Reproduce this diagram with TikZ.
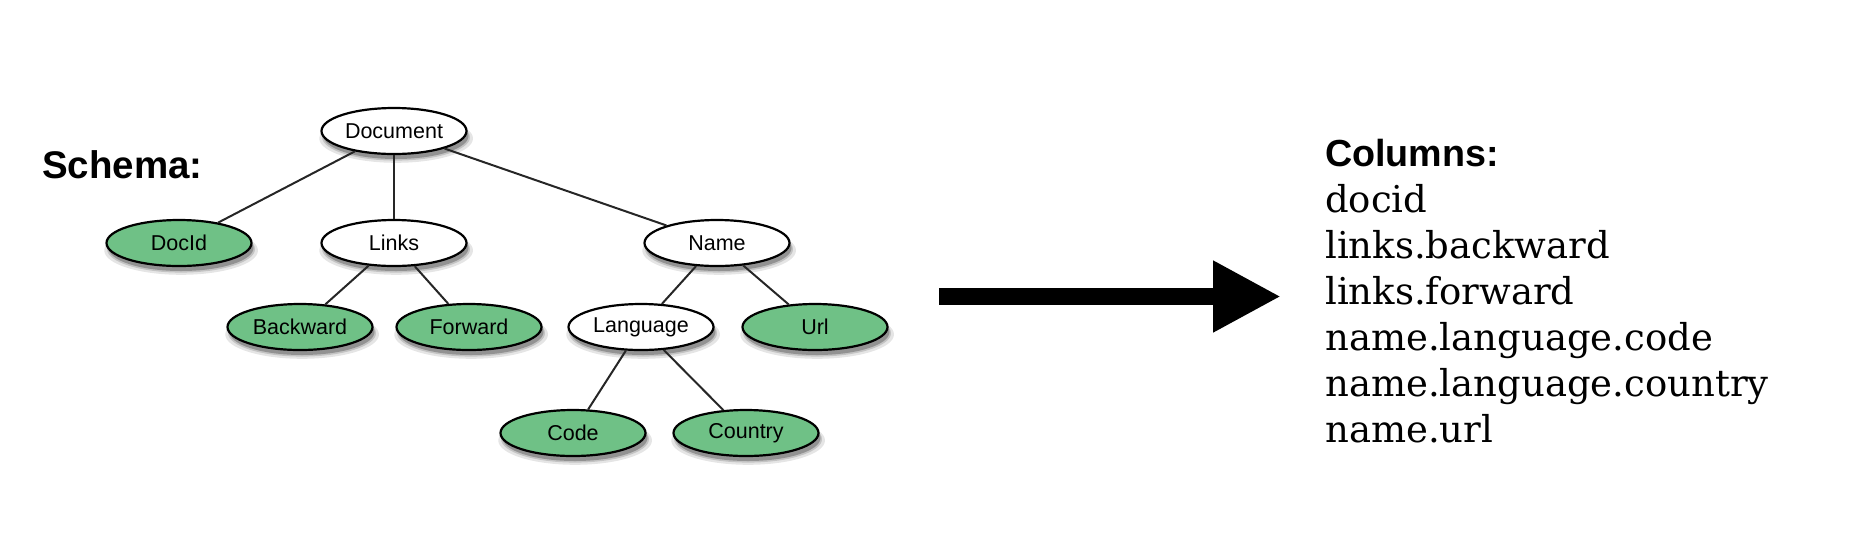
\documentclass[tikz,border=0pt]{standalone}
\usepackage{fontspec}
\setmainfont{Liberation Sans}
\newfontfamily\colfont{DejaVu Serif}
\usetikzlibrary{shapes.geometric,shadows,arrows.meta}
\definecolor{leafgreen}{RGB}{111,193,134}
\begin{document}
\begin{tikzpicture}[x=1pt,y=-1pt,
  ell/.style={ellipse, draw=black, line width=2.2pt, minimum width=145pt, minimum height=46pt, inner sep=0pt,
    font=\fontsize{21.5}{23}\selectfont,
    general shadow={shadow xshift=2pt, shadow yshift=-7pt, shadow scale=1.06, opacity=0.10, fill=black},
    general shadow={shadow xshift=2pt, shadow yshift=-6pt, shadow scale=1.02, opacity=0.15, fill=black},
    general shadow={shadow xshift=2pt, shadow yshift=-5pt, opacity=0.25, fill=black}},
  inner/.style={ell, fill=white},
  leaf/.style={ell, fill=leafgreen},
  edge/.style={draw=black!85, line width=2pt},
  title/.style={font=\fontsize{38.5}{40}\selectfont\bfseries, anchor=base west, inner sep=0pt},
  col/.style={font=\colfont\fontsize{37}{40}\selectfont, anchor=base west, inner sep=0pt},
  bigarrow/.style={line width=17pt, -{Triangle[length=68pt,width=67pt]}}]
\useasboundingbox (0,0) rectangle (1862,542);
\node[title] (schema) at (42,178) {Schema:};
\node[inner] (doc) at (394,131) {Document};
\node[leaf] (docid) at (179,243) {DocId};
\node[inner] (links) at (394,243) {Links};
\node[inner] (name) at (717,243) {Name};
\node[leaf] (back) at (300,327) {Backward};
\node[leaf] (fwd) at (469,327) {Forward};
\node[inner] (lang) at (641,327) {Language};
\node[leaf] (url) at (815,327) {Url};
\node[leaf] (code) at (573,433) {Code};
\node[leaf] (country) at (746,433) {Country};
\path[edge] (doc) -- (docid);
\path[edge] (doc) -- (links);
\path[edge] (doc) -- (name);
\path[edge] (links) -- (back);
\path[edge] (links) -- (fwd);
\path[edge] (name) -- (lang);
\path[edge] (name) -- (url);
\path[edge] (lang) -- (code);
\path[edge] (lang) -- (country);
\coordinate (arrowstart) at (939,296.5);
\coordinate (arrowend) at (1281,296.5);
\draw[bigarrow] (arrowstart) -- (arrowend);
\node[title, font=\fontsize{37.7}{40}\selectfont\bfseries] (columns) at (1325,166) {Columns:};
\node[col] (c1) at (1325,212) {docid};
\node[col] (c2) at (1325,258) {links.backward};
\node[col] (c3) at (1325,304) {links.forward};
\node[col] (c4) at (1325,350) {name.language.code};
\node[col] (c5) at (1325,396) {name.language.country};
\node[col] (c6) at (1325,442) {name.url};
\end{tikzpicture}
\end{document}
